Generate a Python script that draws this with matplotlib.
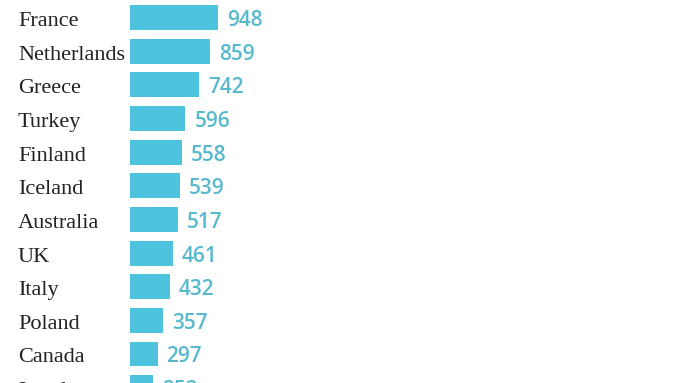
import matplotlib
matplotlib.use("Agg")
import matplotlib.pyplot as plt

countries = ["France", "Netherlands", "Greece", "Turkey", "Finland", "Iceland",
             "Australia", "UK", "Italy", "Poland", "Canada", "Israel"]
values = [948, 859, 742, 596, 558, 539, 517, 461, 432, 357, 297, 252]

W, H = 680, 383
px_per_unit = 88 / 948
bar_left_px = 130
row_px = 33.65
first_row_px = 17.5

fig = plt.figure(figsize=(W / 100, H / 100), dpi=100)
ax = fig.add_axes([0, 0, 1, 1])
ax.set_xlim(-bar_left_px / px_per_unit, (W - bar_left_px) / px_per_unit)
ax.set_ylim((H - first_row_px) / row_px, -first_row_px / row_px)
ax.axis("off")

ys = list(range(len(countries)))
ax.barh(ys, values, height=0.74, color="#4dc3de", left=0)
name_x = -(bar_left_px - 18) / px_per_unit
base_off = 8.5 / row_px
for y, c, v in zip(ys, countries, values):
    ax.text(name_x, y + base_off, c, ha="left", va="baseline", fontsize=16,
            family="Liberation Serif", color="#222222")
    ax.text(v + 9 / px_per_unit, y + base_off, str(v), ha="left", va="baseline",
            fontsize=15, family="Open Sans", fontweight="semibold", color="#58b8cd")

fig.savefig("out.png", dpi=100)
